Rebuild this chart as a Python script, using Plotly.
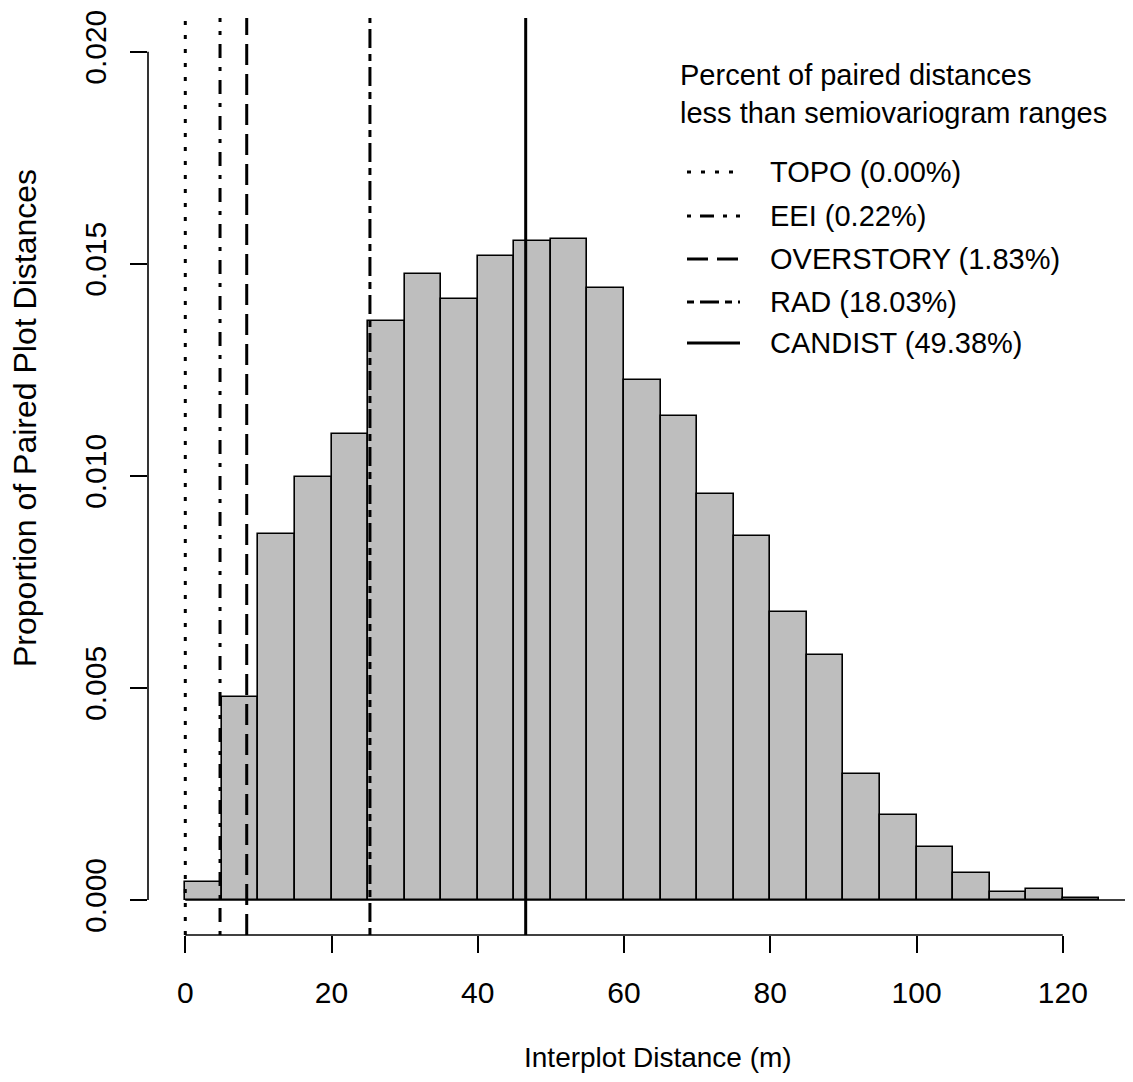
import plotly.graph_objects as go

# ---- data ----
bin_left = [0, 5, 10, 15, 20, 25, 30, 35, 40, 45, 50, 55, 60, 65, 70, 75, 80, 85, 90, 95, 100, 105, 110, 115, 120]
bin_width = 5
density = [0.00043, 0.00479, 0.00862, 0.00997, 0.01099, 0.01366, 0.01476, 0.01417,
           0.01519, 0.01554, 0.01558, 0.01444, 0.01226, 0.01142, 0.00958, 0.00858,
           0.00678, 0.00577, 0.00296, 0.00200, 0.00126, 0.00064, 0.00020, 0.00025, 0.00004]

range_names = ["TOPO", "EEI", "OVERSTORY", "RAD", "CANDIST"]
range_values = [0.0, 4.75, 8.4, 25.25, 46.55]
range_pct = ["0.00%", "0.22%", "1.83%", "18.03%", "49.38%"]

x_ticks = [0, 20, 40, 60, 80, 100, 120]
y_ticks = [0.0, 0.005, 0.010, 0.015, 0.020]
y_tick_labels = ["0.000", "0.005", "0.010", "0.015", "0.020"]

legend_title = ["Percent of paired distances", "less than semiovariogram ranges"]
x_title = "Interplot Distance (m)"
y_title = "Proportion of Paired Plot Distances"

# ---- styling ----
OFF = 8                      # default page body margin
W, H = 1133 - OFF, 1082 - OFF
ML, MR, MT, MB = 140, 0, 10, 147
FONT = "Liberation Sans, Arial, sans-serif"
BAR_FILL = "#bebebe"
dashes = ["4px,10px", "4px,9px,14px,9px", "21px,9px", "7px,6px,19px,6px", "solid"]
LW = 3

PW = W - ML - MR
PH = H - MT - MB


def px(xp):
    return (xp - OFF - ML) / PW


def py(yp):
    return (H - MB - (yp - OFF)) / PH


fig = go.Figure()
fig.add_trace(go.Bar(
    x=[b + bin_width / 2 for b in bin_left],
    y=density,
    width=[bin_width] * len(bin_left),
    marker=dict(color=BAR_FILL, line=dict(color="black", width=1.6)),
    showlegend=False,
    hoverinfo="skip",
))

shapes = []
# zero baseline
shapes.append(dict(type="line", xref="x", yref="y", x0=0, x1=129.6, y0=0, y1=0,
                   line=dict(color="black", width=1.6)))
# axis lines (R style, detached)
shapes.append(dict(type="line", xref="x", yref="paper", x0=x_ticks[0], x1=x_ticks[-1], y0=0, y1=0,
                   line=dict(color="black", width=1.6)))
shapes.append(dict(type="line", xref="paper", yref="y", x0=0, x1=0, y0=y_ticks[0], y1=y_ticks[-1],
                   line=dict(color="black", width=1.6)))
# vertical range lines
for v, d in zip(range_values, dashes):
    shapes.append(dict(type="line", xref="x", yref="paper", x0=v, x1=v, y0=0, y1=1,
                       line=dict(color="black", width=LW, dash=d)))

annotations = []
# legend
title_y = [75, 113]
for t, yy in zip(legend_title, title_y):
    annotations.append(dict(text=t, xref="paper", yref="paper", x=px(678), y=py(yy),
                            xanchor="left", yanchor="middle", showarrow=False,
                            font=dict(family=FONT, size=29, color="black")))
entry_y = [172, 216, 259, 302, 343]
for name, pct, d, yy in zip(range_names, range_pct, dashes, entry_y):
    shapes.append(dict(type="line", xref="paper", yref="paper", x0=px(687), x1=px(740),
                       y0=py(yy), y1=py(yy), line=dict(color="black", width=LW, dash=d)))
    annotations.append(dict(text=f"{name} ({pct})", xref="paper", yref="paper", x=px(768), y=py(yy),
                            xanchor="left", yanchor="middle", showarrow=False,
                            font=dict(family=FONT, size=29, color="black")))
# axis titles
annotations.append(dict(text=x_title, xref="paper", yref="paper", x=px(658), y=py(1057),
                        xanchor="center", yanchor="middle", showarrow=False,
                        font=dict(family=FONT, size=28, color="black")))
annotations.append(dict(text=y_title, xref="paper", yref="paper", x=px(25), y=py(418),
                        xanchor="center", yanchor="middle", showarrow=False, textangle=-90,
                        font=dict(family=FONT, size=32, color="black")))

fig.update_layout(
    width=W, height=H,
    margin=dict(l=ML, r=MR, t=MT, b=MB, pad=0),
    paper_bgcolor="white", plot_bgcolor="white",
    bargap=0, showlegend=False,
    shapes=shapes, annotations=annotations,
    xaxis=dict(range=[-5.1, 129.6], tickvals=x_ticks, ticktext=[str(t) for t in x_ticks],
               ticks="outside", ticklen=17, tickwidth=1.6, tickcolor="black",
               showline=False, showgrid=False, zeroline=False, ticklabelstandoff=14,
               tickfont=dict(family=FONT, size=30, color="black")),
    yaxis=dict(range=[-0.000825, 0.020795], tickvals=y_ticks, ticktext=y_tick_labels,
               ticks="outside", ticklen=17, tickwidth=1.6, tickcolor="black",
               showline=False, showgrid=False, zeroline=False, tickangle=-90,
               ticklabelstandoff=12,
               tickfont=dict(family=FONT, size=30, color="black")),
)

fig.write_html("out.html")
